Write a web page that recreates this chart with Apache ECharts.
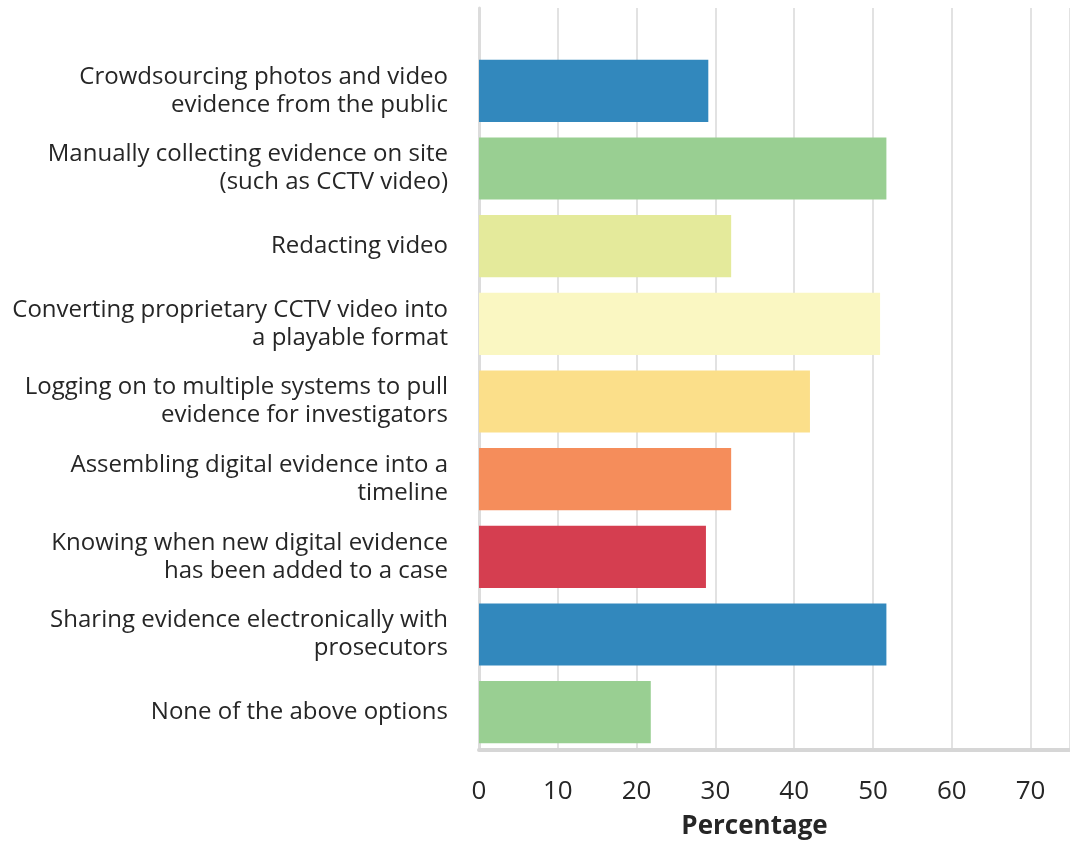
<!DOCTYPE html>
<html>
<head>
<meta charset="utf-8">
<script src="https://cdn.jsdelivr.net/npm/echarts@6/dist/echarts.min.js"></script>
<style>
  html, body { margin: 0; padding: 0; background: #ffffff; }
  #chart { width: 1070px; height: 845px; }
</style>
</head>
<body>
<div id="chart"></div>
<script>
// Tasks, top to bottom
const categories = [
  'Crowdsourcing photos and video\nevidence from the public',
  'Manually collecting evidence on site\n(such as CCTV video)',
  'Redacting video',
  'Converting proprietary CCTV video into\na playable format',
  'Logging on to multiple systems to pull\nevidence for investigators',
  'Assembling digital evidence into a\ntimeline',
  'Knowing when new digital evidence\nhas been added to a case',
  'Sharing evidence electronically with\nprosecutors',
  'None of the above options'
];

// Share of respondents (%)
const percentages = [29.1, 51.7, 32.0, 50.9, 42.0, 32.0, 28.8, 51.7, 21.8];

const axisName = 'Percentage';

// Bar fills, one per category
const palette = ['#3288bd', '#99cf92', '#e4ea9b', '#faf7c2', '#fbdf8a', '#f58d5b', '#d53e50', '#3288bd', '#99cf92'];

const FONT = '"Open Sans", "Noto Sans", sans-serif';
const TEXT = '#262626';

const chart = echarts.init(document.getElementById('chart'), null, { renderer: 'canvas' });

chart.setOption({
  animation: false,
  backgroundColor: '#ffffff',
  grid: [
    // frame: vertical gridlines, value labels and axis lines
    { left: 479, right: 0, top: 8, bottom: 93, containLabel: false },
    // bars and category labels
    { left: 479, right: 0, top: 52, bottom: 94, containLabel: false }
  ],
  xAxis: [
    {
      gridIndex: 0,
      type: 'value',
      min: 0,
      max: 75,
      interval: 10,
      name: axisName,
      nameLocation: 'middle',
      nameGap: 64,
      nameTextStyle: {
        fontFamily: FONT, fontSize: 26, fontWeight: 'bold', color: TEXT,
        padding: [0, 40, 0, 0]
      },
      axisLine: { show: true, lineStyle: { color: '#d6d6d6', width: 4 } },
      axisTick: { show: false },
      axisLabel: { show: true, margin: 29, fontFamily: FONT, fontSize: 26, color: TEXT, showMaxLabel: false },
      splitLine: { show: true, lineStyle: { color: '#e2e2e2', width: 2 } }
    },
    {
      gridIndex: 1,
      type: 'value',
      min: 0,
      max: 75,
      interval: 10,
      show: false
    }
  ],
  yAxis: [
    {
      gridIndex: 0,
      type: 'value',
      min: 0,
      max: 1,
      offset: 2,
      axisLine: { show: true, lineStyle: { color: '#dcdcdc', width: 3 } },
      axisTick: { show: false },
      axisLabel: { show: false },
      splitLine: { show: false }
    },
    {
      gridIndex: 1,
      type: 'category',
      inverse: true,
      data: categories,
      axisLine: { show: false },
      axisTick: { show: false },
      axisLabel: {
        margin: 31,
        fontFamily: FONT,
        fontSize: 24,
        lineHeight: 28,
        color: TEXT,
        align: 'right',
        padding: [4, 0, 0, 0]
      },
      splitLine: { show: false }
    }
  ],
  series: [
    {
      type: 'bar',
      xAxisIndex: 1,
      yAxisIndex: 1,
      barCategoryGap: '20%',
      data: percentages.map((v, i) => ({ value: v, itemStyle: { color: palette[i] } })),
      label: { show: false }
    }
  ]
});
</script>
</body>
</html>
